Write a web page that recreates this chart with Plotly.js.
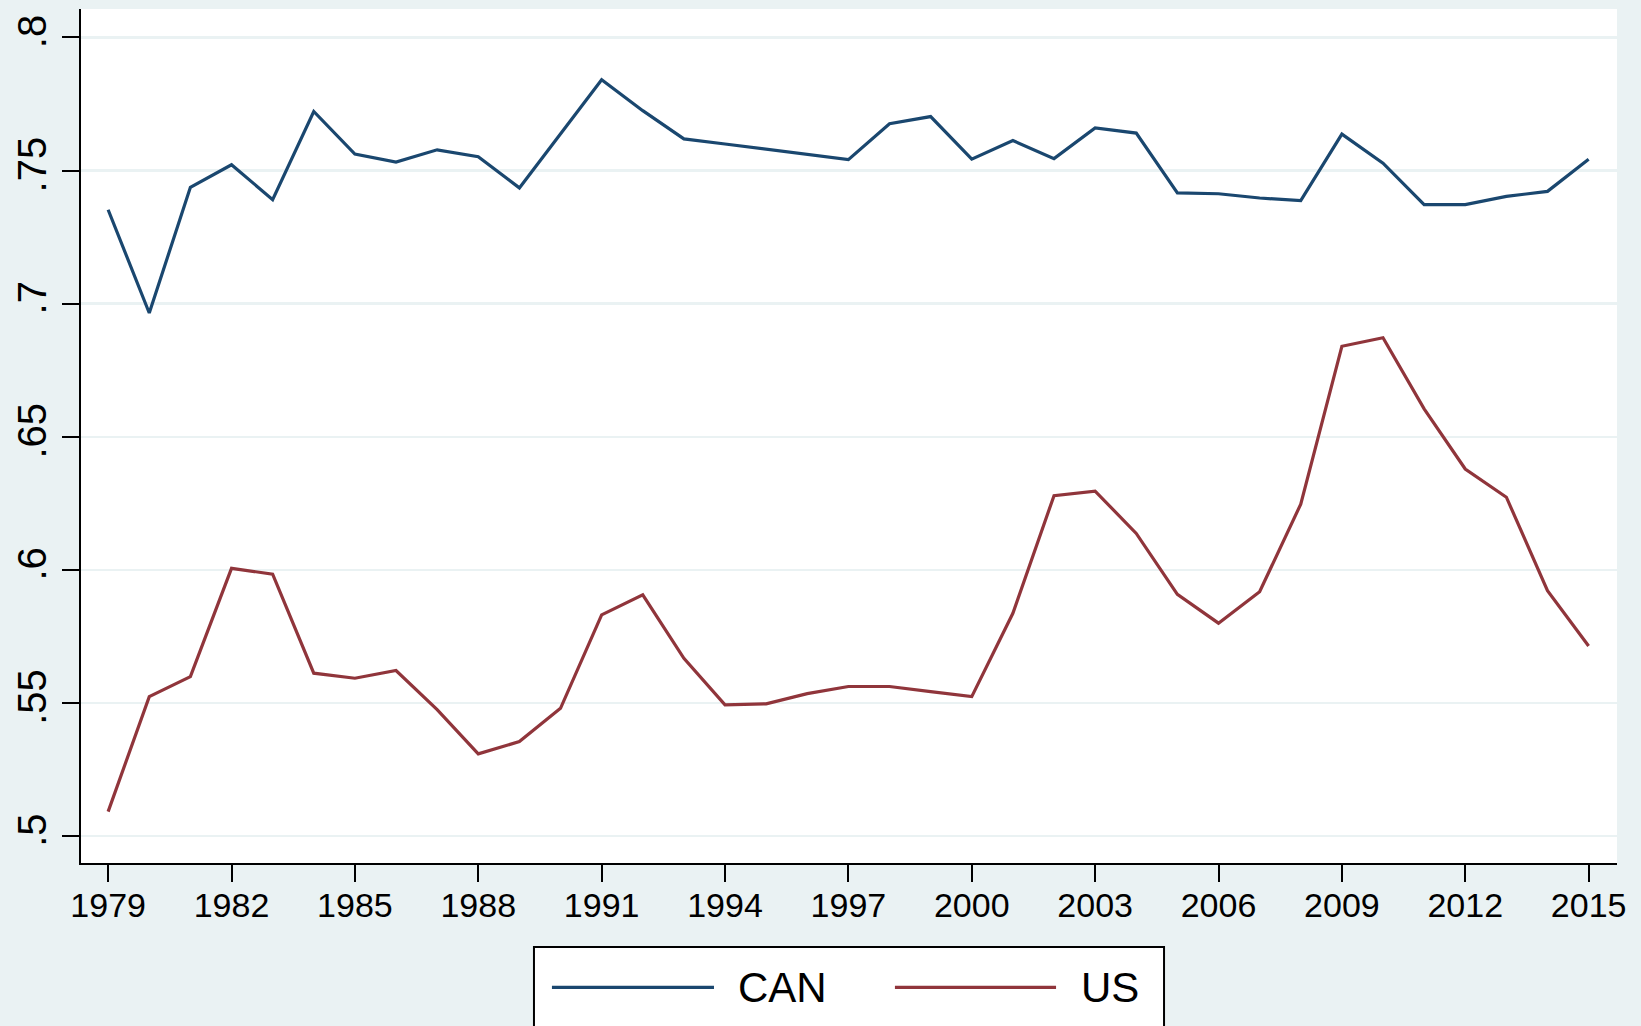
<!DOCTYPE html>
<html>
<head>
<meta charset="utf-8">
<script src="https://cdn.plot.ly/plotly-3.0.1.min.js"></script>
<style>html,body{margin:0;padding:0;background:#eaf2f3;}#chart{width:1641px;height:1026px;}</style>
</head>
<body>
<div id="chart"></div>
<script>
const years = [1979,1980,1981,1982,1983,1984,1985,1986,1987,1988,1989,1990,1991,1992,1993,1994,1995,1996,1997,
  1998,1999,2000,2001,2002,2003,2004,2005,2006,2007,2008,2009,2010,2011,2012,2013,2014,2015];
const canValues = [0.7353,0.6965,0.7437,0.7522,0.7391,0.7722,0.7562,0.7532,0.7578,0.7552,0.7435,0.7638,0.7841,0.7725,0.7619,
  0.7600,0.7580,0.7560,0.7541,0.7676,0.7703,0.7543,0.7613,0.7545,0.7660,0.7641,0.7416,0.7413,0.7397,0.7387,
  0.7637,0.7528,0.7372,0.7372,0.7403,0.7422,0.7543];
const usValues = [0.5092,0.5524,0.5599,0.6006,0.5984,0.5612,0.5593,0.5622,0.5475,0.5309,0.5355,0.5480,0.5831,0.5906,0.5668,
  0.5493,0.5497,0.5535,0.5562,0.5562,0.5543,0.5524,0.5837,0.6279,0.6296,0.6137,0.5908,0.5800,0.5918,0.6247,
  0.6840,0.6872,0.6605,0.6379,0.6273,0.5922,0.5714];
const seriesNames = ["CAN", "US"];
const seriesColors = ["#1a476f", "#90353b"];
const xTickVals = [1979,1982,1985,1988,1991,1994,1997,2000,2003,2006,2009,2012,2015];
const yTickVals = [0.5,0.55,0.6,0.65,0.7,0.75,0.8];
const yTickText = [".5",".55",".6",".65",".7",".75",".8"];

const font = "Liberation Sans, Arial, Helvetica, sans-serif";
const lineWidth = 3.2;
const traces = [
  {x: years, y: canValues, name: seriesNames[0], type: "scatter", mode: "lines",
   line: {color: seriesColors[0], width: lineWidth}},
  {x: years, y: usValues, name: seriesNames[1], type: "scatter", mode: "lines",
   line: {color: seriesColors[1], width: lineWidth}}
];

// Stata-style legend box below the plot (paper coordinates)
const legY = -0.1456;
const legendItems = [
  {line: [0.3066, 0.4121], textX: 0.4264},
  {line: [0.5299, 0.6348], textX: 0.6497}
];
const shapes = [
  {type: "rect", xref: "paper", yref: "paper", x0: 0.2949, x1: 0.7051, y0: -0.0984, y1: -0.23,
   line: {color: "#000000", width: 2}, fillcolor: "#ffffff", layer: "above"}
];
const annotations = [];
legendItems.forEach((it, i) => {
  shapes.push({type: "line", xref: "paper", yref: "paper", x0: it.line[0], x1: it.line[1], y0: legY, y1: legY,
    line: {color: seriesColors[i], width: lineWidth}, layer: "above"});
  annotations.push({xref: "paper", yref: "paper", x: it.textX, y: legY, xanchor: "left", yanchor: "middle",
    text: seriesNames[i], showarrow: false, font: {size: 42, family: font, color: "#000"}});
});

const layout = {
  width: 1641, height: 1026,
  margin: {l: 81, r: 24, t: 9, b: 163, pad: 0},
  paper_bgcolor: "#eaf2f3",
  plot_bgcolor: "#ffffff",
  font: {family: font, color: "#000000"},
  showlegend: false,
  xaxis: {
    range: [1978.34, 2015.69],
    tickvals: xTickVals,
    ticks: "outside", ticklen: 17, tickwidth: 2, tickcolor: "#000",
    showline: true, linecolor: "#000", linewidth: 2,
    showgrid: false, zeroline: false,
    ticklabelstandoff: -6,
    tickfont: {size: 34, family: font}
  },
  yaxis: {
    range: [0.4899, 0.8107],
    tickvals: yTickVals, ticktext: yTickText,
    tickangle: -90,
    ticks: "outside", ticklen: 17, tickwidth: 2, tickcolor: "#000",
    showline: true, linecolor: "#000", linewidth: 2,
    showgrid: true, gridcolor: "#eaf2f3", gridwidth: 2.5,
    zeroline: false,
    tickfont: {size: 40, family: font}
  },
  shapes: shapes,
  annotations: annotations
};
Plotly.newPlot("chart", traces, layout, {displayModeBar: false, staticPlot: true});
</script>
</body>
</html>
